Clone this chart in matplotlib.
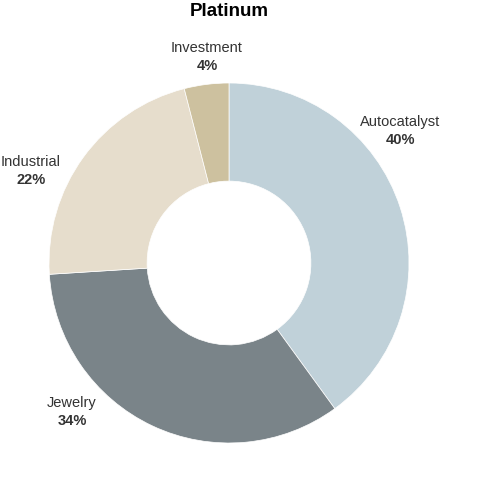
import matplotlib
matplotlib.use("Agg")
import matplotlib.pyplot as plt

plt.rcParams['font.family'] = ['Liberation Sans', 'DejaVu Sans']

categories = ["Autocatalyst", "Jewelry", "Industrial", "Investment"]
values = [40, 34, 22, 4]
colors = ["#c0d1d9", "#7a8489", "#e6ddcc", "#cdc19f"]
label_pos = [(400, 131), (72, 412), (31, 171), (207, 57)]

W, H = 494, 484
fig = plt.figure(figsize=(W/100, H/100), dpi=100)
cx, cy, R = 229, 263, 180
ax = fig.add_axes([(cx-R)/W, (H-cy-R)/H, 2*R/W, 2*R/H])
ax.pie(values, colors=colors, startangle=90, counterclock=False,
       wedgeprops=dict(width=0.545, edgecolor="white", linewidth=0.5))
ax.set_xlim(-1, 1)
ax.set_ylim(-1, 1)
ax.set_aspect("equal")

for name, v, (x, y) in zip(categories, values, label_pos):
    fig.text(x/W, 1-(y-9)/H, name, ha="center", va="center", fontsize=10.5, color="#333333")
    fig.text(x/W, 1-(y+9)/H, f"{v}%", ha="center", va="center", fontsize=10.5,
             fontweight="bold", color="#333333")

fig.text(cx/W, 1-12/H, "Platinum", ha="center", va="center", fontsize=13.5, fontweight="bold")
fig.savefig("out.png", dpi=100)
